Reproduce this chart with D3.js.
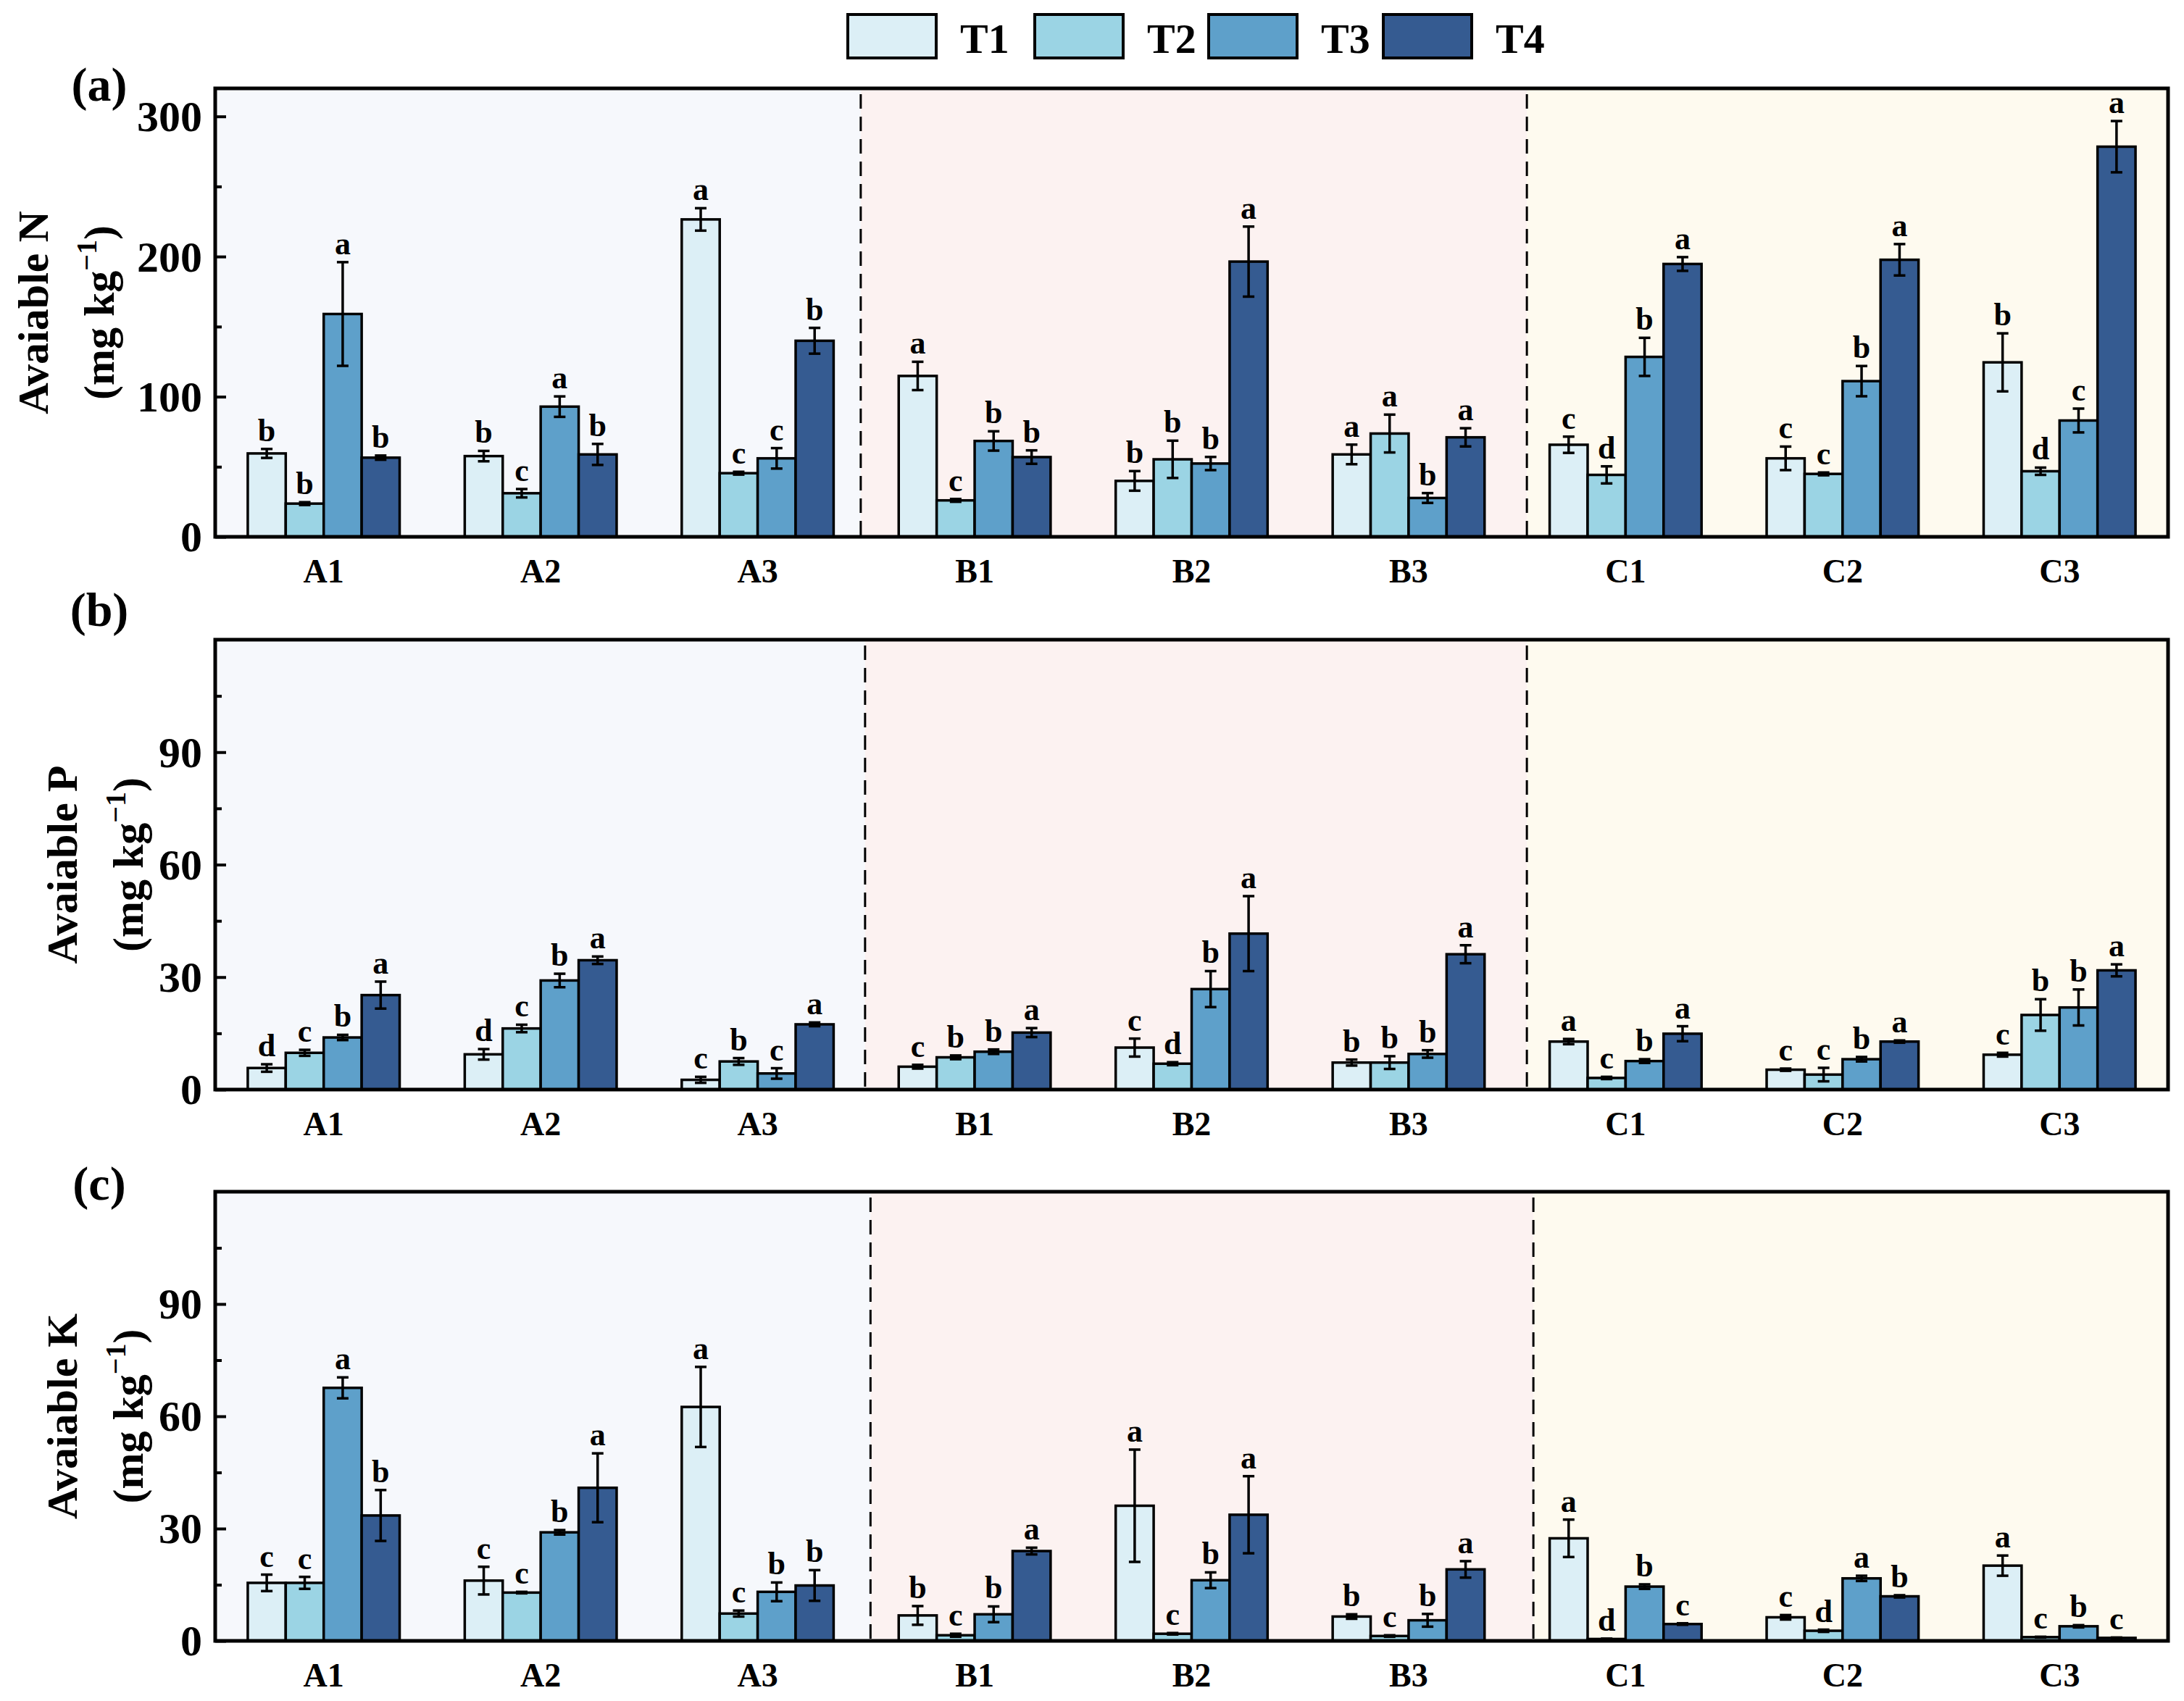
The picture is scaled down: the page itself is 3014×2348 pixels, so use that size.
<!DOCTYPE html>
<html><head><meta charset="utf-8">
<script src="https://cdn.jsdelivr.net/npm/d3@7"></script>
<style>body{margin:0;background:#fff}svg{display:block}</style>
</head><body>
<script>
const categories = ["A1","A2","A3","B1","B2","B3","C1","C2","C3"];
const treatments = ["T1","T2","T3","T4"];
const colors = ["#dceff6","#9bd4e4","#5ea0ca","#355b91"];
const groupBg = ["#f6f8fc","#fcf2f1","#fefaef"];

// Available N (mg/kg): rows = categories, cols = T1..T4
const nMeans = [[59.5,23.7,159,56.5],[57.6,31.1,92.9,58.8],[226.5,45.4,56,139.9],
  [114.8,26,68.4,56.9],[39.9,55.3,52.3,196.4],[58.8,73.7,27.7,71],
  [65.7,44.2,128.4,194.7],[56,44.9,111.1,197.7],[124.5,46.8,83,278.4]];
const nErrors = [[3.2,1,37,1.5],[3.7,3,7.3,7.5],[8,1,7.3,9.2],
  [10.1,1,6.9,4.8],[7,13.3,4.7,25],[7,13.5,3.5,6.5],
  [5.8,6.1,13.6,4.9],[8.4,1,10.8,11.2],[20.7,2.6,8.5,18.3]];
const nLetters = ["bbab","bcab","accb","acbb","bbba","aaba","cdba","ccba","bdca"];

const pMeans = [[5.75,9.8,13.9,25.2],[9.4,16.3,29.1,34.5],[2.6,7.5,4.3,17.4],
  [6.1,8.6,10.1,15.2],[11.2,6.9,26.8,41.6],[7.2,7.2,9.5,36.1],
  [12.8,3.1,7.6,14.9],[5.3,4.0,8.1,12.8],[9.3,19.9,21.9,31.8]];
const pErrors = [[1,0.8,0.7,3.6],[1.4,1,1.8,1],[0.8,0.9,1.4,0.5],
  [0.5,0.5,0.6,1.2],[2.4,0.4,4.8,10],[0.8,1.7,1,2.4],
  [0.7,0.3,0.5,2],[0.3,1.8,0.6,0.3],[0.5,4.2,4.8,1.6]];
const pLetters = ["dcba","dcba","cbca","cbba","cdba","bbba","acba","ccba","cbba"];

const kMeans = [[15.5,15.5,67.6,33.5],[16.1,12.9,29,40.9],[62.5,7.3,13.1,14.8],
  [6.8,1.5,7.1,24],[36.1,1.9,16.2,33.7],[6.5,1.3,5.5,19.1],
  [27.4,0.5,14.5,4.5],[6.3,2.7,16.7,11.9],[20.1,1,3.9,0.8]];
const kErrors = [[2.2,1.6,2.8,6.8],[3.7,0.2,0.6,9.2],[10.7,0.8,2.5,4.1],
  [2.5,0.4,2.1,0.9],[15,0.2,2.1,10.3],[0.6,0.2,1.7,2.2],
  [5,0.1,0.6,0.2],[0.6,0.3,0.7,0.3],[2.7,0.1,0.3,0.1]];
const kLetters = ["ccab","ccba","acbb","bcba","acba","bcba","adbc","cdab","acbc"];

const nTicks = [0,100,200,300], nMinor = [50,150,250];
const pkTicks = [0,30,60,90], pkMinor = [15,45,75,105];

const panels = [
  {label:"(a)", name:"Avaiable N", means:nMeans, errs:nErrors, letters:nLetters, max:320, ticks:nTicks, minor:nMinor,
   top:122, bottom:741, labelY:139, t1x:46, t2x:138, seps:[2.975,6.045]},
  {label:"(b)", name:"Avaiable P", means:pMeans, errs:pErrors, letters:pLetters, max:120, ticks:pkTicks, minor:pkMinor,
   top:883, bottom:1504, labelY:864, t1x:86, t2x:178, seps:[2.995,6.045]},
  {label:"(c)", name:"Avaiable K", means:kMeans, errs:kErrors, letters:kLetters, max:120, ticks:pkTicks, minor:pkMinor,
   top:1645, bottom:2265, labelY:1656, t1x:86, t2x:178, seps:[3.02,6.075]}
];

const W = 3014, H = 2348, L = 297, R = 2992;
const FONT = "'Liberation Serif','Times New Roman',serif";
const svg = d3.select("body").append("svg").attr("width",W).attr("height",H)
  .style("font-family",FONT).style("font-weight","bold");
svg.append("rect").attr("width",W).attr("height",H).attr("fill","#fff");

const x0 = d3.scaleBand().domain(categories).range([L,R]).paddingInner(0.3).paddingOuter(0.15);
const x1 = d3.scaleBand().domain(treatments).range([0,x0.bandwidth()]);
const xi = d3.scaleLinear().domain([0,categories.length]).range([L,R]);

panels.forEach(p => {
  const y = d3.scaleLinear().domain([0,p.max]).range([p.bottom,p.top]);
  const g = svg.append("g");
  // background groups
  const bounds = [0, ...p.seps, categories.length];
  for (let i=0;i<3;i++){
    g.append("rect").attr("x",xi(bounds[i])).attr("y",p.top)
      .attr("width",xi(bounds[i+1])-xi(bounds[i])).attr("height",p.bottom-p.top)
      .attr("fill",groupBg[i]);
  }
  p.seps.forEach(s => {
    g.append("line").attr("x1",xi(s)).attr("x2",xi(s)).attr("y1",p.top+8).attr("y2",p.bottom)
      .attr("stroke","#000").attr("stroke-width",3).attr("stroke-dasharray","20,11");
  });
  // bars
  categories.forEach((c,ci) => {
    const cg = g.append("g").attr("transform",`translate(${x0(c)},0)`);
    treatments.forEach((t,ti) => {
      const v = p.means[ci][ti], e = p.errs[ci][ti];
      const bx = x1(t), bw = x1.bandwidth(), cx = bx + bw/2;
      cg.append("rect").attr("x",bx).attr("y",y(v)).attr("width",bw).attr("height",y(0)-y(v))
        .attr("fill",colors[ti]).attr("stroke","#000").attr("stroke-width",3.5);
      const eg = cg.append("g").attr("stroke","#000").attr("stroke-width",3.5);
      eg.append("line").attr("x1",cx).attr("x2",cx).attr("y1",y(v+e)).attr("y2",y(v-e));
      eg.append("line").attr("x1",cx-8).attr("x2",cx+8).attr("y1",y(v+e)).attr("y2",y(v+e));
      eg.append("line").attr("x1",cx-8).attr("x2",cx+8).attr("y1",y(v-e)).attr("y2",y(v-e));
      cg.append("text").attr("x",cx).attr("y",y(v+e)-11).attr("text-anchor","middle")
        .attr("font-size",44).text(p.letters[ci][ti]);
    });
  });
  // y axis ticks (inward)
  const yAxis = d3.axisRight(y).tickValues(p.ticks).tickSize(15).tickFormat("");
  const ya = g.append("g").attr("transform",`translate(${L},0)`).call(yAxis);
  ya.select(".domain").remove();
  ya.selectAll("line").attr("stroke","#000").attr("stroke-width",4);
  const yMinor = d3.axisRight(y).tickValues(p.minor).tickSize(9).tickFormat("");
  const ym = g.append("g").attr("transform",`translate(${L},0)`).call(yMinor);
  ym.select(".domain").remove();
  ym.selectAll("line").attr("stroke","#000").attr("stroke-width",4);
  g.selectAll(null).data(p.ticks).enter().append("text")
    .attr("x",L-18).attr("y",d=>y(d)).attr("dy","0.34em").attr("text-anchor","end")
    .attr("font-size",60).text(d=>d);
  // x axis labels
  const xa = d3.axisBottom(x0).tickSize(0).tickPadding(0);
  const xg = g.append("g").attr("transform",`translate(0,${p.bottom})`).call(xa);
  xg.select(".domain").remove();
  xg.selectAll("text").attr("y",63).attr("dy",0).attr("font-size",46)
    .attr("font-family",FONT).attr("font-weight","bold").attr("fill","#000");
  // frame
  g.append("rect").attr("x",L).attr("y",p.top).attr("width",R-L).attr("height",p.bottom-p.top)
    .attr("fill","none").attr("stroke","#000").attr("stroke-width",5);
  // panel label
  svg.append("text").attr("x",137).attr("y",p.labelY).attr("text-anchor","middle")
    .attr("font-size",66).text(p.label);
  // y titles
  const cy = (p.top+p.bottom)/2;
  svg.append("text").attr("transform",`translate(${p.t1x},${cy}) rotate(-90)`)
    .attr("text-anchor","middle").attr("dominant-baseline","central").attr("font-size",60).text(p.name);
  const t2 = svg.append("text").attr("transform",`translate(${p.t2x},${cy}) rotate(-90)`)
    .attr("text-anchor","middle").attr("dy","0.32em").attr("font-size",60);
  t2.append("tspan").text("(mg kg");
  t2.append("tspan").attr("dy",-24).attr("font-size",40).text("\u22121");
  t2.append("tspan").attr("dy",24).text(")");
});

// legend
const legX = [1170,1428,1668,1909];
treatments.forEach((t,i) => {
  svg.append("rect").attr("x",legX[i]).attr("y",20).attr("width",122).attr("height",60)
    .attr("fill",colors[i]).attr("stroke","#000").attr("stroke-width",4);
  svg.append("text").attr("x",legX[i]+155).attr("y",73).attr("font-size",58).text(t);
});
</script>
</body></html>
